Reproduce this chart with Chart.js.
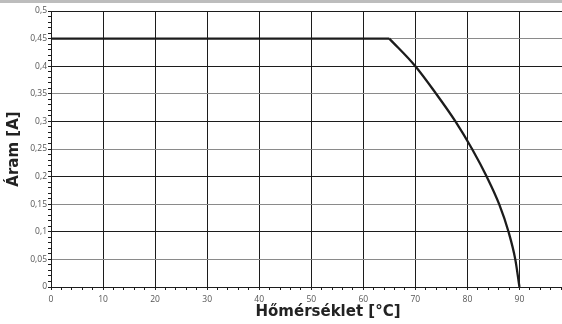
<!DOCTYPE html>
<html>
<head>
<meta charset="utf-8">
<script src="https://cdn.jsdelivr.net/npm/chart.js@4"></script>
<style>
  html, body { margin: 0; padding: 0; background: #fff; overflow: hidden; }
  #wrap { position: relative; width: 562px; height: 324px; overflow: hidden; }
  #bar { position: absolute; left: 0; top: 0; width: 562px; height: 3px; background: #bdbdbd; }
  #c { position: absolute; left: 0; top: 0; }
</style>
</head>
<body>
<div id="wrap">
  <canvas id="c" width="600" height="324"></canvas>
  <div id="bar"></div>
</div>
<script>
// flat part of the derating curve
const flatTemp = [0, 65];
const flatCurrent = [0.45, 0.45];
// falling part
const dropTemp = [65, 70, 74.0, 77.7, 80.9, 83.7, 86.1, 87.9, 89.2, 90];
const dropCurrent = [0.45, 0.4, 0.35, 0.3, 0.25, 0.2, 0.15, 0.1, 0.05, 0];

const xTitle = 'Hőmérséklet [°C]';
const yTitle = 'Áram [A]';

function pts(xs, ys) {
    return xs.map((x, i) => ({ x: x, y: ys[i] }));
}

const tickFont = { family: 'Open Sans', size: 8.5 };

const titlePlugin = {
    id: 'axisTitles',
    afterDraw(chart) {
        const ctx = chart.ctx;
        const area = chart.chartArea;
        ctx.save();
        ctx.fillStyle = '#222';
        ctx.font = 'bold 15px "DejaVu Sans"';
        ctx.textAlign = 'center';
        ctx.textBaseline = 'middle';
        ctx.fillText(xTitle, 328, 312);
        ctx.translate(14, (area.top + area.bottom) / 2);
        ctx.rotate(-Math.PI / 2);
        ctx.fillText(yTitle, 0, 0);
        ctx.restore();
    }
};

const ctx = document.getElementById('c').getContext('2d');
new Chart(ctx, {
    type: 'line',
    data: {
        datasets: [{
            data: pts(flatTemp, flatCurrent),
            borderColor: '#1c1c1c',
            borderWidth: 2.3,
            pointRadius: 0,
            tension: 0
        }, {
            data: pts(dropTemp, dropCurrent),
            borderColor: '#1c1c1c',
            borderWidth: 2.3,
            pointRadius: 0,
            cubicInterpolationMode: 'monotone'
        }]
    },
    options: {
        responsive: false,
        animation: false,
        layout: { padding: { top: 11, right: 28.5, left: 0, bottom: 0 } },
        plugins: { legend: { display: false }, tooltip: { enabled: false } },
        scales: {
            x: {
                type: 'linear',
                min: 0,
                max: 100,
                afterFit: s => { s.height = 37; },
                border: { color: '#1c1c1c', width: 1 },
                grid: {
                    color: c => (Math.round(c.tick.value) % 10 === 0 ? '#1c1c1c' : 'rgba(0,0,0,0)'),
                    tickColor: '#1c1c1c',
                    tickLength: 3,
                    lineWidth: 1
                },
                ticks: {
                    stepSize: 2,
                    autoSkip: false,
                    maxRotation: 0,
                    padding: 4,
                    color: '#555',
                    font: tickFont,
                    callback: v => (Math.round(v) % 10 === 0 ? String(Math.round(v)) : '')
                }
            },
            y: {
                min: 0,
                max: 0.5,
                afterFit: s => { s.width = 51; },
                border: { color: '#1c1c1c', width: 1 },
                grid: {
                    color: c => {
                        const k = Math.round(c.tick.value * 100);
                        if (k % 10 === 0) return '#1c1c1c';
                        if (k % 5 === 0) return '#8a8a8a';
                        return 'rgba(0,0,0,0)';
                    },
                    tickColor: '#1c1c1c',
                    tickLength: 3,
                    lineWidth: 1
                },
                ticks: {
                    stepSize: 0.01,
                    autoSkip: false,
                    padding: 1,
                    color: '#555',
                    font: tickFont,
                    callback: v => {
                        const k = Math.round(v * 100);
                        return k % 5 === 0 ? String(k / 100).replace('.', ',') : '';
                    }
                }
            }
        }
    },
    plugins: [titlePlugin]
});
</script>
</body>
</html>
